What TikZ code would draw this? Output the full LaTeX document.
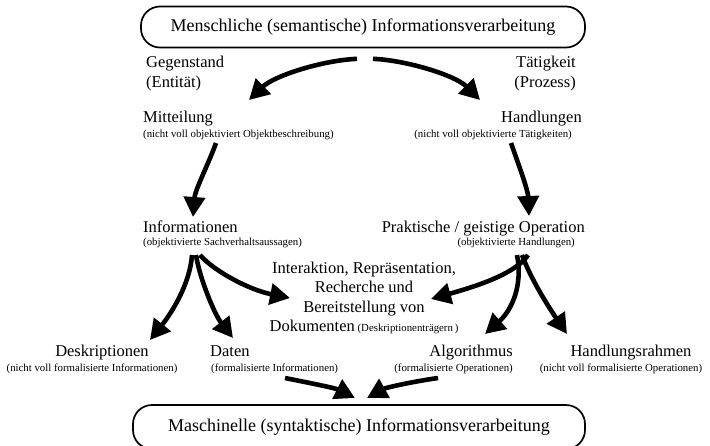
\documentclass[tikz,border=0pt]{standalone}
\usepackage{fontspec}
\setmainfont{Liberation Serif}
\usetikzlibrary{arrows.meta}
\newcommand{\mainf}{\fontsize{16.5}{19.3}\selectfont}
\newcommand{\subf}{\fontsize{10.8}{12}\selectfont}
\newcommand{\boxf}{\fontsize{18}{21}\selectfont}
\begin{document}
\begin{tikzpicture}[x=1pt,y=-1pt,
  lab/.style={font=\mainf, inner sep=0pt, text height=11.5pt, text depth=3.5pt},
  sublab/.style={font=\subf, inner sep=0pt, text height=7.6pt, text depth=2.4pt},
  bigbox/.style={draw, line width=1.7pt, rounded corners=19pt, font=\boxf, inner sep=0pt},
  arr/.style={line width=4.6pt, -{Triangle[length=20pt,width=21pt]}}]
\useasboundingbox (0,0) rectangle (710,445);
\clip (0,0) rectangle (710,445);

% boxes
\node[bigbox, minimum width=444pt, minimum height=41pt] (top) at (363,27)
  {Menschliche (semantische) Informationsverarbeitung};
\node[bigbox, minimum width=452pt, minimum height=44pt] (bot) at (359,427)
  {Maschinelle (syntaktische) Informationsverarbeitung};

% top labels
\node[lab, anchor=west] (gegen) at (146,63) {Gegenstand};
\node[lab, anchor=west] (entit) at (146,83) {(Entität)};
\node[lab, anchor=east] (taet) at (576,63) {Tätigkeit};
\node[lab, anchor=east] (proz) at (576,83) {(Prozess)};

\node[lab, anchor=west] (mitt) at (143,118) {Mitteilung};
\node[sublab, anchor=west] (mittsub) at (143,135) {(nicht voll objektiviert Objektbeschreibung)};
\node[lab, anchor=east] (handl) at (582,118) {Handlungen};
\node[sublab, anchor=east] (handlsub) at (572,135) {(nicht voll objektivierte Tätigkeiten)};

\node[lab, anchor=west] (info) at (143,228) {Informationen};
\node[sublab, anchor=west] (infosub) at (143,243) {(objektivierte Sachverhaltsaussagen)};
\node[lab, anchor=east] (prakt) at (585,228) {Praktische / geistige Operation};
\node[sublab, anchor=east] (praktsub) at (575,243) {(objektivierte Handlungen)};

\node[font=\mainf, inner sep=0pt, align=center] (mid) at (364,298)
  {Interaktion, Repräsentation,\\Recherche und\\Bereitstellung von\\Dokumenten\,{\subf(Deskriptionenträgern\,)}};

\node[lab] (desk) at (102,352) {Deskriptionen};
\node[sublab] (desksub) at (92,369) {(nicht voll formalisierte Informationen)};
\node[lab, anchor=west] (daten) at (210,352) {Daten};
\node[sublab, anchor=west] (datensub) at (211,369) {(formalisierte Informationen)};
\node[lab, anchor=east] (algo) at (513,352) {Algorithmus};
\node[sublab, anchor=east] (algosub) at (513,369) {(formalisierte Operationen)};
\node[lab] (hrahm) at (631,352) {Handlungsrahmen};
\node[sublab] (hrahmsub) at (621,369) {(nicht voll formalisierte Operationen)};

% arrows
\draw[arr] ([shift={(-6,10.5)}]top.south) .. controls (325,60) and (275,75) .. ([shift={(106,-18)}]mitt.west);
\draw[arr] ([shift={(10,10.5)}]top.south) .. controls (405,60) and (455,75) .. ([shift={(-102,-18)}]handl.east);
\draw[arr] ([shift={(73,8)}]mittsub.west) .. controls (208,165) and (195,190) .. ([shift={(50,-11)}]info.west);
\draw[arr] ([shift={(-61,8)}]handlsub.east) .. controls (518,163) and (528,190) .. ([shift={(-56,-12)}]prakt.east);
\draw[arr] ([shift={(57,12)}]infosub.west) .. controls (215,272) and (250,290) .. ([shift={(-74,0)}]mid.center);
\draw[arr] ([shift={(-47,12)}]praktsub.east) .. controls (515,275) and (470,288) .. ([shift={(67,1)}]mid.center);
\draw[arr] ([shift={(49,12)}]infosub.west) .. controls (190,285) and (170,315) .. ([shift={(48,-12)}]desk.center);
\draw[arr] ([shift={(53,12)}]infosub.west) .. controls (200,280) and (215,315) .. ([shift={(23,-14)}]daten.west);
\draw[arr] ([shift={(-58,12)}]praktsub.east) .. controls (523,285) and (512,310) .. ([shift={(-28,-18)}]algo.east);
\draw[arr] ([shift={(-53,12)}]praktsub.east) .. controls (532,282) and (552,312) .. ([shift={(-64,-18)}]hrahm.center);
\draw[arr] ([shift={(74,9)}]datensub.west) .. controls (310,383) and (335,388) .. ([shift={(-4,-29)}]bot.center);
\draw[arr] ([shift={(-75,9)}]algosub.east) .. controls (410,382) and (385,388) .. ([shift={(8,-29)}]bot.center);
\end{tikzpicture}
\end{document}
